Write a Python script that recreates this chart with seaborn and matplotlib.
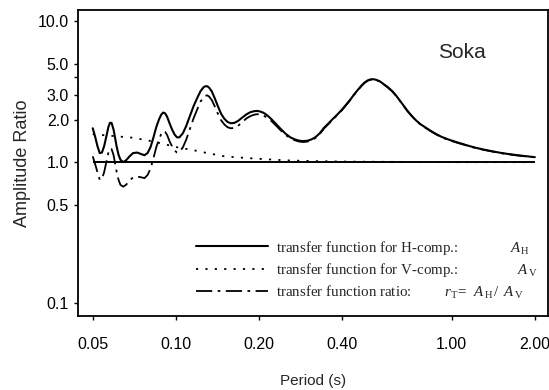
import numpy as np
import pandas as pd
import matplotlib
matplotlib.use("Agg")
import matplotlib.pyplot as plt
import seaborn as sns

# ---- data ----
h_period = [0.050, 0.051, 0.052, 0.053, 0.054, 0.055, 0.056, 0.057, 0.0577, 0.0585,
            0.0595, 0.061, 0.062, 0.063, 0.0645, 0.066, 0.068, 0.070, 0.0725, 0.075,
            0.077, 0.079, 0.081, 0.083, 0.085, 0.087, 0.0885, 0.090, 0.0915, 0.093,
            0.095, 0.097, 0.099, 0.101, 0.103, 0.106, 0.109, 0.112, 0.116, 0.120,
            0.123, 0.126, 0.128, 0.130, 0.132, 0.135, 0.138, 0.142, 0.146, 0.150,
            0.154, 0.158, 0.163, 0.168, 0.174, 0.180, 0.186, 0.192, 0.197, 0.202,
            0.208, 0.215, 0.222, 0.230, 0.240, 0.250, 0.260, 0.270, 0.280, 0.290,
            0.300, 0.310, 0.320, 0.332, 0.345, 0.357, 0.370, 0.385, 0.400, 0.415,
            0.430, 0.443, 0.456, 0.470, 0.482, 0.495, 0.508, 0.520, 0.533, 0.547,
            0.560, 0.585, 0.610, 0.630, 0.650, 0.670, 0.690, 0.715, 0.740, 0.770,
            0.800, 0.830, 0.860, 0.890, 0.920, 0.980, 1.050, 1.130, 1.210, 1.300,
            1.400, 1.500, 1.590, 1.700, 1.800, 1.900, 2.000]
h_amp = [1.74, 1.52, 1.30, 1.16, 1.17, 1.30, 1.52, 1.78, 1.90, 1.90,
         1.70, 1.30, 1.13, 1.04, 1.00, 1.03, 1.10, 1.16, 1.17, 1.14,
         1.12, 1.16, 1.28, 1.50, 1.78, 2.02, 2.17, 2.25, 2.22, 2.10,
         1.88, 1.70, 1.57, 1.50, 1.50, 1.60, 1.80, 2.08, 2.50, 2.90,
         3.20, 3.40, 3.46, 3.46, 3.38, 3.18, 2.88, 2.50, 2.20, 2.03,
         1.93, 1.89, 1.90, 1.96, 2.07, 2.18, 2.26, 2.30, 2.31, 2.29,
         2.24, 2.14, 2.02, 1.88, 1.72, 1.59, 1.50, 1.45, 1.42, 1.41,
         1.42, 1.45, 1.50, 1.60, 1.76, 1.88, 2.02, 2.18, 2.36, 2.57,
         2.80, 3.03, 3.25, 3.48, 3.66, 3.80, 3.87, 3.88, 3.84, 3.76,
         3.64, 3.42, 3.18, 2.95, 2.72, 2.51, 2.32, 2.14, 1.99, 1.86,
         1.77, 1.69, 1.62, 1.56, 1.51, 1.44, 1.38, 1.32, 1.27, 1.23,
         1.195, 1.165, 1.145, 1.125, 1.11, 1.097, 1.085]

v_period = [0.050, 0.060, 0.070, 0.080, 0.090, 0.100, 0.115, 0.130, 0.150, 0.180,
            0.210, 0.250, 0.300, 0.400, 0.600, 1.000, 2.000]
v_amp = [1.58, 1.53, 1.49, 1.42, 1.35, 1.28, 1.22, 1.16, 1.10, 1.07,
         1.05, 1.03, 1.02, 1.01, 1.005, 1.00, 1.00]

r_period = [0.050, 0.051, 0.052, 0.053, 0.054, 0.055, 0.056, 0.057, 0.0577, 0.0585,
            0.0595, 0.061, 0.062, 0.063, 0.0645, 0.066, 0.068, 0.070, 0.0725, 0.075,
            0.077, 0.079, 0.081, 0.083, 0.085, 0.087, 0.0885, 0.090, 0.0915, 0.093,
            0.095, 0.097, 0.099, 0.101, 0.103, 0.106, 0.109, 0.112, 0.116, 0.120,
            0.123, 0.126, 0.128, 0.130, 0.132, 0.135, 0.138, 0.142, 0.146, 0.150,
            0.154, 0.158, 0.163, 0.168, 0.174, 0.180, 0.186, 0.192, 0.197, 0.202,
            0.208, 0.215, 0.222, 0.230, 0.240, 0.250, 0.260, 0.270, 0.280, 0.290,
            0.300, 0.310, 0.320, 0.332, 0.345, 0.357, 0.370, 0.385, 0.400, 0.415,
            0.430, 0.443, 0.456, 0.470, 0.482, 0.495, 0.508, 0.520, 0.533, 0.547,
            0.560, 0.585, 0.610, 0.630, 0.650, 0.670, 0.690, 0.715, 0.740, 0.770,
            0.800, 0.830, 0.860, 0.890, 0.920, 0.980, 1.050, 1.130, 1.210, 1.300,
            1.400, 1.500, 1.590, 1.700, 1.800, 1.900, 2.000]
r_amp = [1.10, 0.97, 0.85, 0.75, 0.76, 0.85, 1.00, 1.17, 1.25, 1.24,
         1.12, 0.86, 0.75, 0.69, 0.67, 0.69, 0.74, 0.78, 0.79, 0.78,
         0.77, 0.81, 0.90, 1.07, 1.28, 1.46, 1.58, 1.66, 1.64, 1.56,
         1.40, 1.29, 1.21, 1.17, 1.18, 1.27, 1.44, 1.68, 2.05, 2.41,
         2.70, 2.88, 2.96, 2.98, 2.92, 2.76, 2.52, 2.21, 1.98, 1.85,
         1.77, 1.74, 1.75, 1.81, 1.92, 2.04, 2.12, 2.17, 2.19, 2.18,
         2.14, 2.06, 1.96, 1.83, 1.68, 1.56, 1.48, 1.43, 1.40, 1.39,
         1.40, 1.43, 1.48, 1.58, 1.74, 1.86, 2.00, 2.16, 2.34, 2.55,
         2.78, 3.01, 3.23, 3.46, 3.64, 3.78, 3.85, 3.86, 3.82, 3.74,
         3.62, 3.40, 3.16, 2.94, 2.71, 2.50, 2.31, 2.13, 1.98, 1.85,
         1.76, 1.68, 1.61, 1.55, 1.50, 1.43, 1.37, 1.315, 1.265, 1.225,
         1.19, 1.16, 1.14, 1.12, 1.105, 1.093, 1.082]

x_ticks = [0.05, 0.10, 0.20, 0.40, 1.00, 2.00]
x_tick_labels = ["0.05", "0.10", "0.20", "0.40", "1.00", "2.00"]
y_ticks = [0.1, 0.5, 1.0, 2.0, 3.0, 4.0, 5.0, 10.0]
y_tick_labels = ["0.1", "0.5", "1.0", "2.0", "3.0", "", "5.0", "10.0"]

labels = ["transfer function for H-comp.:" + " " * 14 + r"$A_{\,\mathrm{H}}$",
          "transfer function for V-comp.:" + " " * 16 + r"$A_{\,\mathrm{V}}$",
          "transfer function ratio:" + " " * 9
          + r"$r_{\mathrm{T}}\!=\ \,A_{\,\mathrm{H}}\,/\ \,A_{\;\mathrm{V}}$"]

# ---- plotting ----
sns.set_style("ticks")
plt.rcParams["font.family"] = ["Liberation Sans", "DejaVu Sans"]
plt.rcParams["mathtext.fontset"] = "custom"
plt.rcParams["mathtext.it"] = "Liberation Serif:italic"
plt.rcParams["mathtext.rm"] = "Liberation Serif"

fig = plt.figure(figsize=(5.49, 3.90), dpi=100)
ax = fig.add_axes([0.142, 0.19, 0.856, 0.784])

dfh = pd.DataFrame({"period": h_period, "amp": h_amp})
dfv = pd.DataFrame({"period": v_period, "amp": v_amp})
dfr = pd.DataFrame({"period": r_period, "amp": r_amp})

ax.hlines(1.0, 0.05, 2.0, color="black", lw=1.4, zorder=1)
sns.lineplot(data=dfh, x="period", y="amp", ax=ax, color="black", lw=1.5,
             label=labels[0], sort=False)
sns.lineplot(data=dfv, x="period", y="amp", ax=ax, color="black", lw=1.3,
             label=labels[1], sort=False, linestyle=(0, (1.2, 4.0)))
sns.lineplot(data=dfr, x="period", y="amp", ax=ax, color="black", lw=1.3,
             label=labels[2], sort=False, linestyle=(0, (9, 3, 1.5, 3)))

ax.set_xscale("log")
ax.set_yscale("log")
ax.set_xlim(0.0442, 2.23)
ax.set_ylim(0.081, 12.0)
ax.set_xticks(x_ticks)
ax.set_xticklabels(x_tick_labels)
ax.set_yticks(y_ticks)
ax.set_yticklabels(y_tick_labels)
ax.minorticks_off()
ax.tick_params(axis="both", labelsize=11.5, length=3, width=1, direction="out", colors="black")
ax.tick_params(axis="x", pad=12)

for s in ax.spines.values():
    s.set_linewidth(1.3)
    s.set_color("black")

ax.set_xlabel("Period (s)", fontsize=11, labelpad=16)
ax.set_ylabel("Amplitude Ratio", fontsize=13, labelpad=5)

ax.text(0.817, 0.863, "Soka", transform=ax.transAxes, fontsize=15,
        ha="center", va="center")

leg = ax.legend(loc="lower right", frameon=False, handlelength=4.8,
                handletextpad=0.55, labelspacing=0.3, borderaxespad=0.3,
                bbox_to_anchor=(1.0, 0.015),
                prop={"family": "Liberation Serif", "size": 10.8})

fig.savefig("out.png", dpi=100)
